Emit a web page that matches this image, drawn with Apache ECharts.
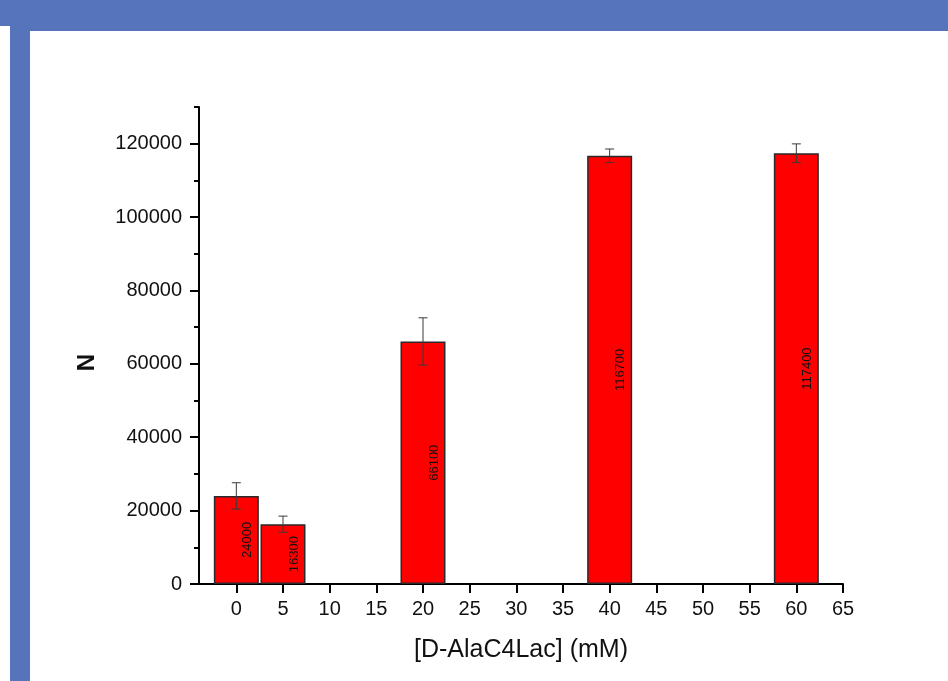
<!DOCTYPE html>
<html>
<head>
<meta charset="utf-8">
<script src="https://cdn.jsdelivr.net/npm/echarts@6/dist/echarts.min.js"></script>
<style>
  html, body { margin: 0; padding: 0; background: #ffffff; }
  #chart { width: 948px; height: 681px; }
</style>
</head>
<body>
<div id="chart"></div>
<script>
// Concentrations (mM) and measured N with standard deviations
const concentrations = [0, 5, 20, 40, 60];
const meanN = [24000, 16300, 66100, 116700, 117400];
const errN = [3600, 2200, 6450, 1850, 2550];

// Axis tick positions
const xTicks = [0, 5, 10, 15, 20, 25, 30, 35, 40, 45, 50, 55, 60, 65];
const yMajorTicks = [0, 20000, 40000, 60000, 80000, 100000, 120000];
const yMinorTicks = [10000, 30000, 50000, 70000, 90000, 110000, 130000];

const FONT = 'Liberation Sans, Arial, sans-serif';
const BLUE = '#5574bb';

const barData = concentrations.map((x, i) => [x, meanN[i]]);
const errData = concentrations.map((x, i) => [x, meanN[i] - errN[i], meanN[i] + errN[i]]);

const chart = echarts.init(document.getElementById('chart'), null, { renderer: 'canvas' });

chart.setOption({
  backgroundColor: '#ffffff',
  animation: false,
  graphic: [
    { type: 'rect', shape: { x: 0, y: 0, width: 948, height: 31 }, style: { fill: BLUE }, z: -10 },
    { type: 'rect', shape: { x: 0, y: 26, width: 10, height: 655 }, style: { fill: '#ffffff' }, z: -9 },
    { type: 'rect', shape: { x: 10, y: 26, width: 20, height: 655 }, style: { fill: BLUE }, z: -9 }
  ],
  grid: { left: 199, right: 105, top: 107, bottom: 97 },
  xAxis: {
    type: 'value',
    min: -4,
    max: 65,
    name: '[D-AlaC4Lac] (mM)',
    nameLocation: 'middle',
    nameGap: 54,
    nameTextStyle: { fontFamily: FONT, fontSize: 25, color: '#111' },
    axisLine: { show: true, onZero: false, lineStyle: { color: '#000', width: 2 } },
    axisTick: { show: true, customValues: xTicks, length: 9, inside: false, lineStyle: { color: '#000', width: 2 } },
    axisLabel: { customValues: xTicks, margin: 15, fontFamily: FONT, fontSize: 20, color: '#111' },
    splitLine: { show: false }
  },
  yAxis: [
    {
      type: 'value',
      min: 0,
      max: 130000,
      name: 'N',
      nameLocation: 'middle',
      nameGap: 100,
      nameTextStyle: { fontFamily: FONT, fontSize: 24, fontWeight: 'bold', color: '#111', padding: [0, 34, 0, 0] },
      axisLine: { show: true, onZero: false, lineStyle: { color: '#000', width: 2 } },
      axisTick: { show: true, customValues: yMajorTicks, length: 9, lineStyle: { color: '#000', width: 2 } },
      axisLabel: {
        customValues: yMajorTicks, margin: 17, fontFamily: FONT, fontSize: 20, color: '#111',
        formatter: v => String(v)
      },
      splitLine: { show: false }
    },
    {
      type: 'value',
      min: 0,
      max: 130000,
      position: 'left',
      axisLine: { show: false, onZero: false },
      axisTick: { show: true, customValues: yMinorTicks, length: 5, lineStyle: { color: '#000', width: 2 } },
      axisLabel: { show: false },
      splitLine: { show: false }
    }
  ],
  series: [
    {
      type: 'bar',
      data: barData,
      barWidth: 45,
      itemStyle: { color: '#ff0000', borderColor: '#2a2a2a', borderWidth: 1.5 },
      label: {
        show: true,
        position: 'inside',
        rotate: 90,
        offset: [0, 11],
        fontFamily: FONT,
        fontSize: 13,
        color: '#111',
        formatter: p => String(p.value[1])
      },
      z: 2
    },
    {
      type: 'custom',
      data: errData,
      z: 3,
      renderItem: (params, api) => {
        const x = api.value(0);
        const lo = api.coord([x, api.value(1)]);
        const hi = api.coord([x, api.value(2)]);
        const cap = 4.5;
        const style = { stroke: '#3a3a3a', lineWidth: 1 };
        return {
          type: 'group',
          children: [
            { type: 'line', shape: { x1: lo[0], y1: lo[1], x2: hi[0], y2: hi[1] }, style },
            { type: 'line', shape: { x1: hi[0] - cap, y1: hi[1], x2: hi[0] + cap, y2: hi[1] }, style },
            { type: 'line', shape: { x1: lo[0] - cap, y1: lo[1], x2: lo[0] + cap, y2: lo[1] }, style }
          ]
        };
      }
    }
  ]
});
</script>
</body>
</html>
